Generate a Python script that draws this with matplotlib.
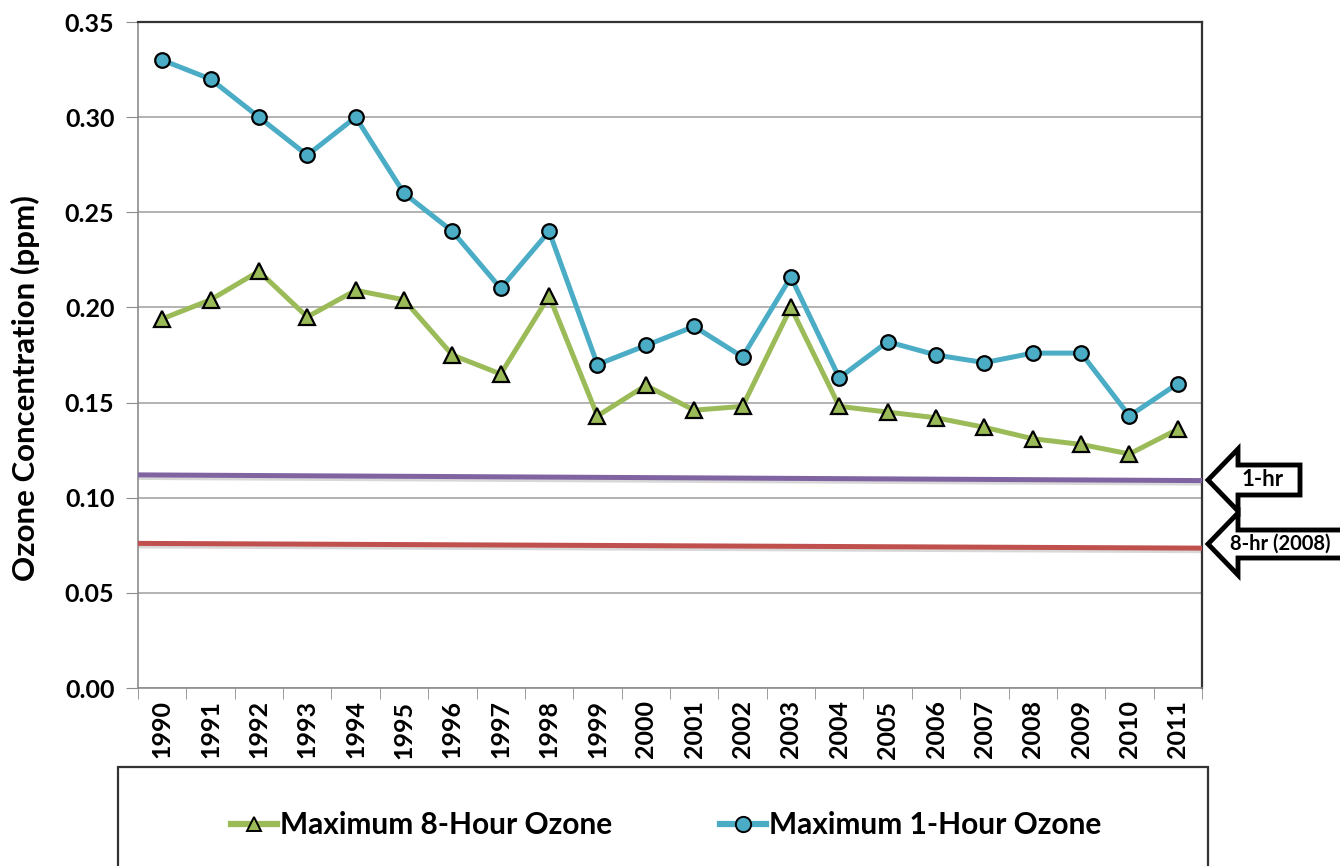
import numpy as np
import matplotlib
matplotlib.use("Agg")
import matplotlib.pyplot as plt
from matplotlib.patches import Polygon, Rectangle
from matplotlib.lines import Line2D

# values
years = list(range(1990, 2012))
max_8hr = [0.194, 0.204, 0.219, 0.195, 0.209, 0.204, 0.175, 0.165, 0.206, 0.143, 0.159,
           0.146, 0.148, 0.200, 0.148, 0.145, 0.142, 0.137, 0.131, 0.128, 0.123, 0.136]
max_1hr = [0.330, 0.320, 0.300, 0.280, 0.300, 0.260, 0.240, 0.210, 0.240, 0.170, 0.180,
           0.190, 0.174, 0.216, 0.163, 0.182, 0.175, 0.171, 0.176, 0.176, 0.143, 0.160]
# standard reference lines (drawn slightly tilted in the original), start/end level
std_1hr = [0.112, 0.109]
std_8hr = [0.076, 0.0735]
std_labels = ["1-hr", "8-hr (2008)"]
yticks = [0.00, 0.05, 0.10, 0.15, 0.20, 0.25, 0.30, 0.35]

GREEN = "#9BBB59"
BLUE = "#4BACC6"
PURPLE = "#8064A2"
RED = "#C0504D"
W, H = 1340, 866

plt.rcParams["font.family"] = ["Lato", "DejaVu Sans"]
plt.rcParams["font.weight"] = "bold"

fig = plt.figure(figsize=(W / 100, H / 100), dpi=100)
ax = fig.add_axes([138 / W, 1 - 688 / H, (1202 - 138) / W, (688 - 22) / H])

x0, x1 = years[0] - 0.5, years[-1] + 0.5
for lv, col in ((std_1hr, PURPLE), (std_8hr, RED)):
    ax.plot([x0, x1], [v - 0.0012 for v in lv], color="#d8d8d8", lw=4, zorder=2,
            solid_capstyle="butt")
    ax.plot([x0, x1], lv, color=col, lw=3.6, zorder=3, solid_capstyle="butt")

ax.plot(years, max_8hr, color=GREEN, lw=3.6, marker="^", ms=11.5, mfc=GREEN,
        mec="black", mew=1.6, zorder=4)
ax.plot(years, max_1hr, color=BLUE, lw=3.6, marker="o", ms=10.5, mfc=BLUE,
        mec="black", mew=1.6, zorder=5)

ax.set_xlim(x0, x1)
ax.set_ylim(0, 0.35)
ax.set_yticks(yticks)
ax.set_yticklabels([f"{v:.2f}" for v in yticks], fontsize=18, fontweight="bold")
ax.set_xticks(years)
ax.set_xticklabels([str(y) for y in years], rotation=90, fontsize=18, fontweight="bold")
ax.set_xticks(np.arange(x0, x1 + 0.1, 1.0), minor=True)
ax.tick_params(axis="x", which="major", length=0, pad=9)
ax.tick_params(axis="x", which="minor", length=8, color="#8c8c8c", direction="out")
ax.tick_params(axis="y", length=9, color="#8c8c8c", direction="out", pad=8)
ax.grid(axis="y", color="#a6a6a6", lw=1.2, zorder=0)
ax.set_axisbelow(True)
for s in ("left", "bottom"):
    ax.spines[s].set_color("#8c8c8c")
    ax.spines[s].set_linewidth(1.2)
for s in ("top", "right"):
    ax.spines[s].set_color("#333333")
    ax.spines[s].set_linewidth(1.6)

fig.text(25 / W, 1 - 388 / H, "Ozone Concentration (ppm)", rotation=90,
         ha="center", va="center", fontsize=22.5, fontweight="bold")


# block arrows pointing at the standard lines
def block_arrow(tip_x, cy, body_h, head_h, head_len, right, label, text_x, size):
    pts = [(tip_x, cy), (tip_x + head_len, cy - head_h / 2), (tip_x + head_len, cy - body_h / 2),
           (right, cy - body_h / 2), (right, cy + body_h / 2), (tip_x + head_len, cy + body_h / 2),
           (tip_x + head_len, cy + head_h / 2)]
    pts = [(px / W, 1 - py / H) for px, py in pts]
    fig.add_artist(Polygon(pts, closed=True, transform=fig.transFigure, fc="white",
                           ec="black", lw=3.5, joinstyle="miter", clip_on=False))
    fig.text(text_x / W, 1 - cy / H, label, ha="left", va="center", fontsize=size,
             fontweight="bold")


block_arrow(1208, 480, 30, 62, 30, 1300, std_labels[0], 1242, 16)
block_arrow(1208, 544, 28, 62, 30, 1360, std_labels[1], 1230, 14.5)

# legend box (runs off the bottom of the picture in the original)
fig.add_artist(Rectangle((118 / W, -0.05), (1208 - 118) / W, 0.05 + 1 - 767 / H,
                         transform=fig.transFigure, fc="white", ec="#333333", lw=1.6))
handles = [
    Line2D([], [], color=GREEN, lw=4.5, marker="^", ms=10, mfc=GREEN, mec="black", mew=1.4),
    Line2D([], [], color=BLUE, lw=4.5, marker="o", ms=11, mfc=BLUE, mec="black", mew=1.4),
]
fig.legend(handles, ["Maximum 8-Hour Ozone", "Maximum 1-Hour Ozone"], ncol=2,
           loc="center", bbox_to_anchor=(666 / W, 1 - 825 / H), frameon=False,
           prop={"size": 21.5, "weight": "bold"}, handlelength=1.55, handletextpad=0.1,
           columnspacing=3.6)

fig.savefig("out.png", dpi=100)
